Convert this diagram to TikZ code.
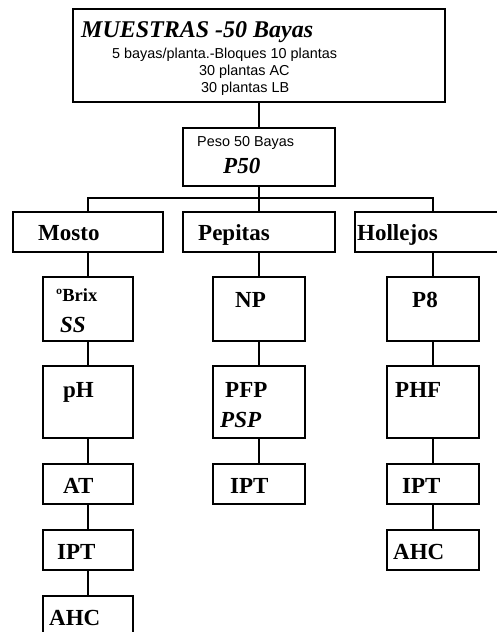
\documentclass[tikz,border=0pt]{standalone}
\usepackage{fontspec}
\setmainfont{Liberation Serif}
\newfontfamily\arialfont{Liberation Sans}

\begin{document}
\begin{tikzpicture}[x=1pt,y=1pt,yscale=-1,xscale=1,
    caja/.style={draw,line width=1.6pt,inner sep=0pt},
    linea/.style={line width=1.6pt},
    grande/.style={anchor=base west,inner sep=0pt,font=\fontsize{23}{27}\selectfont\bfseries},
    cursiva/.style={anchor=base west,inner sep=0pt,font=\fontsize{23}{27}\selectfont\bfseries\itshape},
    chico/.style={anchor=base west,inner sep=0pt,font=\fontsize{14.4}{17}\selectfont\arialfont}]
                \useasboundingbox (0,0) rectangle (497,632);
                \clip (0,0) rectangle (497,632);
                %Shape: Rectangle [muestras]
                \node [caja,minimum width=372,minimum height=93] (muestras) at (259,55.5) {};
                %Shape: Rectangle [peso]
                \node [caja,minimum width=152,minimum height=58] (peso) at (259,157) {};
                %Shape: Rectangle [mosto / pepitas / hollejos]
                \node [caja,minimum width=150,minimum height=40] (mosto) at (88,232) {};
                \node [caja,minimum width=152,minimum height=40] (pepitas) at (259,232) {};
                \node [caja,minimum width=156,minimum height=40] (hollejos) at (433,232) {};
                %Shape: Rectangle [column Mosto]
                \node [caja,minimum width=90,minimum height=64] (brix) at (88,309) {};
                \node [caja,minimum width=90,minimum height=72] (ph) at (88,402) {};
                \node [caja,minimum width=90,minimum height=40] (at) at (88,484) {};
                \node [caja,minimum width=90,minimum height=40] (iptm) at (88,550) {};
                \node [caja,minimum width=90,minimum height=40] (ahcm) at (88,616) {};
                %Shape: Rectangle [column Pepitas]
                \node [caja,minimum width=92,minimum height=64] (np) at (259,309) {};
                \node [caja,minimum width=92,minimum height=72] (pfp) at (259,402) {};
                \node [caja,minimum width=92,minimum height=40] (iptp) at (259,484) {};
                %Shape: Rectangle [column Hollejos]
                \node [caja,minimum width=92,minimum height=64] (p8) at (433,309) {};
                \node [caja,minimum width=92,minimum height=72] (phf) at (433,402) {};
                \node [caja,minimum width=92,minimum height=40] (ipth) at (433,484) {};
                \node [caja,minimum width=92,minimum height=40] (ahch) at (433,550) {};

                %Straight Lines
                \coordinate (reparto) at (259,198);
                \draw [linea] (muestras.south) -- (peso.north);
                \draw [linea] (peso.south) -- (reparto);
                \draw [linea] (reparto) -| (mosto.north);
                \draw [linea] (reparto) -- (pepitas.north);
                \draw [linea] (reparto) -| (hollejos.north);
                \draw [linea] (mosto.south) -- (brix.north);
                \draw [linea] (brix.south) -- (ph.north);
                \draw [linea] (ph.south) -- (at.north);
                \draw [linea] (at.south) -- (iptm.north);
                \draw [linea] (iptm.south) -- (ahcm.north);
                \draw [linea] (pepitas.south) -- (np.north);
                \draw [linea] (np.south) -- (pfp.north);
                \draw [linea] (pfp.south) -- (iptp.north);
                \draw [linea] (hollejos.south) -- (p8.north);
                \draw [linea] (p8.south) -- (phf.north);
                \draw [linea] (phf.south) -- (ipth.north);
                \draw [linea] (ipth.south) -- (ahch.north);

                % Text Node
                \node [cursiva,font=\fontsize{24}{28}\selectfont\bfseries\itshape] (tmuestras) at (81,37) {MUESTRAS -50 Bayas};
                % Text Node
                \node [chico] (tbloques) at (112,58) {5 bayas/planta.-Bloques 10 plantas};
                \node [chico] (tac) at (199,75) {30 plantas AC};
                \node [chico] (tlb) at (201,92) {30 plantas LB};
                % Text Node
                \node [chico] (tpeso) at (197,146) {Peso 50 Bayas};
                \node [cursiva] (tp50) at (223,173) {P50};
                % Text Node
                \node [grande] (tmosto) at (38,240) {Mosto};
                \node [grande] (tpepitas) at (198,240) {Pepitas};
                \node [grande] (thollejos) at (357,240) {Hollejos};
                % Text Node
                \node [grande,font=\fontsize{18.5}{22}\selectfont\bfseries] (tbrix) at (56,301) {ºBrix};
                \node [cursiva] (tss) at (60,332) {SS};
                \node [grande] (tph) at (63,397) {pH};
                \node [grande] (tat) at (63,493) {AT};
                \node [grande] (tiptm) at (57,559) {IPT};
                \node [grande] (tahcm) at (49,625) {AHC};
                % Text Node
                \node [grande] (tnp) at (235,307) {NP};
                \node [grande] (tpfp) at (225,397) {PFP};
                \node [cursiva] (tpsp) at (220,427) {PSP};
                \node [grande] (tiptp) at (230,493) {IPT};
                % Text Node
                \node [grande] (tp8) at (412,307) {P8};
                \node [grande] (tphf) at (395,397) {PHF};
                \node [grande] (tipth) at (402,493) {IPT};
                \node [grande] (tahch) at (393,559) {AHC};
\end{tikzpicture}
\end{document}
